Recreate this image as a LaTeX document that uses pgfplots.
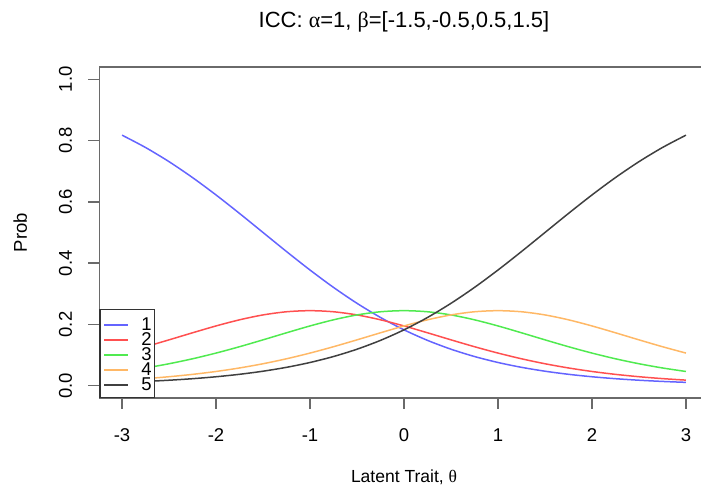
\documentclass[border=0pt]{standalone}
\usepackage{fontspec}
\setmainfont{Liberation Sans}
\newfontfamily\grk{Liberation Serif}
\usepackage{pgfplots}
\usepackage{pgfplotstable}
\pgfplotsset{compat=1.18}
\definecolor{cblue}{HTML}{6464FF}
\definecolor{cred}{HTML}{FF5050}
\definecolor{cgreen}{HTML}{50EA50}
\definecolor{corange}{HTML}{FFB866}
\definecolor{cblack}{HTML}{404040}
\definecolor{frame}{HTML}{6A6A6A}

\pgfplotstableread{
theta c1 c2 c3 c4 c5
-3.00 0.81757 0.10657 0.04655 0.01832 0.01099
-2.75 0.77730 0.12735 0.05802 0.02327 0.01406
-2.50 0.73106 0.14974 0.07177 0.02944 0.01799
-2.25 0.67918 0.17277 0.08796 0.03711 0.02298
-2.00 0.62246 0.19511 0.10657 0.04655 0.02931
-1.75 0.56218 0.21512 0.12735 0.05802 0.03733
-1.50 0.50000 0.23106 0.14974 0.07177 0.04743
-1.25 0.43782 0.24136 0.17277 0.08796 0.06009
-1.00 0.37754 0.24492 0.19511 0.10657 0.07586
-0.75 0.32082 0.24136 0.21512 0.12735 0.09535
-0.50 0.26894 0.23106 0.23106 0.14974 0.11920
-0.25 0.22270 0.21512 0.24136 0.17277 0.14805
0.00 0.18243 0.19511 0.24492 0.19511 0.18243
0.25 0.14805 0.17277 0.24136 0.21512 0.22270
0.50 0.11920 0.14974 0.23106 0.23106 0.26894
0.75 0.09535 0.12735 0.21512 0.24136 0.32082
1.00 0.07586 0.10657 0.19511 0.24492 0.37754
1.25 0.06009 0.08796 0.17277 0.24136 0.43782
1.50 0.04743 0.07177 0.14974 0.23106 0.50000
1.75 0.03733 0.05802 0.12735 0.21512 0.56218
2.00 0.02931 0.04655 0.10657 0.19511 0.62246
2.25 0.02298 0.03711 0.08796 0.17277 0.67918
2.50 0.01799 0.02944 0.07177 0.14974 0.73106
2.75 0.01406 0.02327 0.05802 0.12735 0.77730
3.00 0.01099 0.01832 0.04655 0.10657 0.81757
}\icc

\begin{document}
\begin{tikzpicture}
\begin{axis}[
  at={(0pt,0pt)}, anchor=south west,
  scale only axis, width=609pt, height=331pt,
  xmin=-3.24, xmax=3.24, ymin=-0.04, ymax=1.04,
  font=\fontsize{18.5}{22}\selectfont,
  axis line style={draw=frame, line width=1.6pt},
  xtick={-3,-2,-1,0,1,2,3},
  xticklabels={-3,-2,-1,0,1,2,3},
  ytick={0,0.2,0.4,0.6,0.8,1.0},
  yticklabels={0.0,0.2,0.4,0.6,0.8,1.0},
  tick align=outside, tick pos=left,
  major tick length=11pt,
  tick style={draw=frame, line width=1.4pt},
  xticklabel style={anchor=base, yshift=-33pt, inner sep=0pt},
  yticklabel style={xshift=-16.5pt, rotate=90, anchor=base, inner sep=0pt},
  title={ICC: {\grk α}=1, {\grk β}=[-1.5,-0.5,0.5,1.5]},
  title style={at={(axis description cs:0.5,1.0997)}, anchor=base, inner sep=0pt, font=\fontsize{22}{26}\selectfont},
  xlabel={Latent Trait, {\grk θ}},
  xlabel style={at={(axis description cs:0.5,-0.2538)}, anchor=base, inner sep=0pt, font=\fontsize{17.5}{21}\selectfont},
  ylabel={Prob},
  ylabel style={at={(axis description cs:-0.11905,0.5)}, anchor=base, inner sep=0pt},
  legend style={at={(axis description cs:0,0)}, anchor=south west, draw=black!80, line width=1.1pt, fill=white,
    inner xsep=3pt, inner ysep=6.5pt, column sep=12pt, row sep=0pt,
    nodes={inner sep=0pt, text height=14.1pt, text depth=0.9pt}},
  legend cell align=right,
  legend image code/.code={\draw[#1, line width=2.4pt] (0pt,-1.5pt) -- (24pt,-1.5pt);},
  every axis plot/.append style={line width=1.5pt, no markers},
]
\addplot[cblue, smooth] table[x=theta, y=c1]{\icc};
\addplot[cred, smooth] table[x=theta, y=c2]{\icc};
\addplot[cgreen, smooth] table[x=theta, y=c3]{\icc};
\addplot[corange, smooth] table[x=theta, y=c4]{\icc};
\addplot[cblack, smooth] table[x=theta, y=c5]{\icc};
\legend{1,2,3,4,5}
\end{axis}
\pgfresetboundingbox
\path[use as bounding box] (-99.5pt,-91pt) rectangle (601.5pt,398pt);
\end{tikzpicture}
\end{document}
